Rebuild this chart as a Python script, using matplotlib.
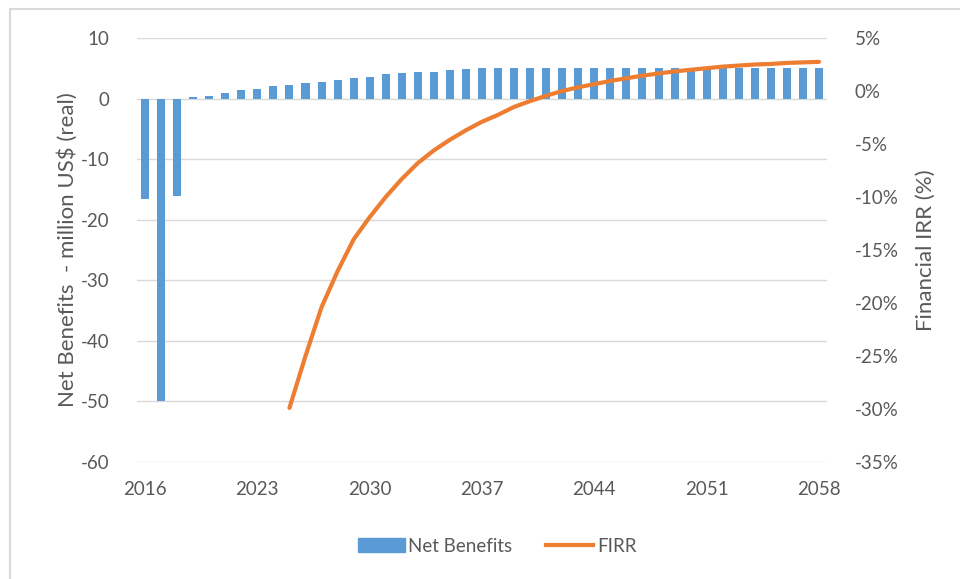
import matplotlib
matplotlib.use("Agg")
import matplotlib.pyplot as plt
from matplotlib.patches import Rectangle
from matplotlib.lines import Line2D
from matplotlib.ticker import FuncFormatter

plt.rcParams["axes.unicode_minus"] = False  # tiret simple comme dans Excel

# donnees
years = list(range(2016, 2059))
net_benefits = [-16.6, -50.0, -16.1, 0.3, 0.5, 1.0, 1.35, 1.6, 2.0, 2.2,
                2.65, 2.8, 3.0, 3.45, 3.6, 4.1, 4.25, 4.45, 4.45, 4.65,
                4.85] + [5.1] * 22
firr_years = list(range(2025, 2059))
firr = [-29.9, -25.0, -20.4, -17.0, -14.0, -11.9, -10.0, -8.3, -6.8, -5.6,
        -4.6, -3.7, -2.9, -2.25, -1.5, -0.95, -0.45, 0.0, 0.35, 0.65,
        0.95, 1.2, 1.45, 1.65, 1.85, 2.0, 2.15, 2.3, 2.4, 2.5,
        2.55, 2.65, 2.7, 2.75]
tick_years = [2016, 2023, 2030, 2037, 2044, 2051, 2058]

BLUE = "#5b9bd5"
ORANGE = "#ed7d31"
GREY = "#595959"
FONT = "Lato"

fig = plt.figure(figsize=(9.6, 5.79), dpi=100)
fig.patches.append(Rectangle((10 / 960, -0.1), 1.2, 1 - 9 / 579 + 0.1,
                             transform=fig.transFigure, fill=False,
                             edgecolor="#d9d9d9", linewidth=1.5))

ax = fig.add_axes([137 / 960, 1 - 462 / 579, 690 / 960, 424 / 579])
x = [y - 2016 for y in years]
ax.bar(x, net_benefits, width=0.5, color=BLUE, zorder=3)
ax.set_xlim(-0.5, len(years) - 0.5)
ax.set_ylim(-60, 10)
ax.set_yticks(range(-60, 11, 10))
ax.grid(axis="y", color="#d9d9d9", linewidth=1, zorder=0)
for s in ax.spines.values():
    s.set_visible(False)
ax.set_xticks([t - 2016 for t in tick_years])
ax.set_xticklabels([str(t) for t in tick_years])
ax.tick_params(length=0, labelsize=13.5, labelcolor=GREY, pad=14)
ax.tick_params(axis="y", pad=20)
ax.set_ylabel("Net Benefits  - million US$ (real)", fontsize=16, color=GREY,
              fontname=FONT, labelpad=2)

ax2 = ax.twinx()
ax2.plot([y - 2016 for y in firr_years], [v / 100 for v in firr],
         color=ORANGE, linewidth=3, solid_capstyle="round",
         solid_joinstyle="round", zorder=4)
ax2.set_ylim(-0.35, 0.05)
ax2.set_yticks([i / 100 for i in range(-35, 6, 5)])
ax2.yaxis.set_major_formatter(FuncFormatter(lambda v, p: f"{v * 100:.0f}%"))
for s in ax2.spines.values():
    s.set_visible(False)
ax2.tick_params(length=0, labelsize=13.5, labelcolor=GREY, pad=20)
ax2.set_ylabel("Financial IRR (%)", fontsize=16, color=GREY, fontname=FONT,
               labelpad=12)

for lab in ax.get_xticklabels() + ax.get_yticklabels() + ax2.get_yticklabels():
    lab.set_fontname(FONT)

handles = [Rectangle((0, 0), 1, 1, color=BLUE),
           Line2D([0], [0], color=ORANGE, linewidth=3)]
fig.legend(handles, ["Net Benefits", "FIRR"], loc="center",
           bbox_to_anchor=(497 / 960, 1 - 546 / 579), ncol=2, frameon=False,
           prop={"family": FONT, "size": 13.5}, labelcolor=GREY,
           handlelength=2.5, handletextpad=0.2, columnspacing=1.8)

fig.savefig("out.png", dpi=100)
